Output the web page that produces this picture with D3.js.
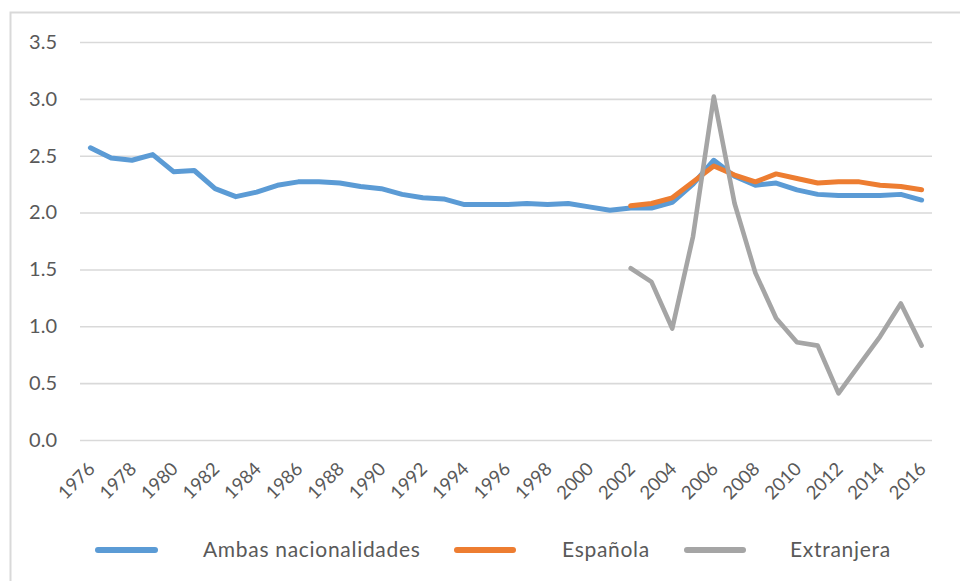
<!DOCTYPE html>
<html>
<head>
<meta charset="utf-8">
<script src="https://cdn.jsdelivr.net/npm/d3@7"></script>
<style>
  html, body { margin: 0; padding: 0; background: #ffffff; }
  svg { display: block; }
  text { font-family: Lato, "Open Sans", sans-serif; fill: #595959; }
</style>
</head>
<body>
<svg id="chart" width="960" height="581"></svg>
<script>
// Years on the category axis
const years = d3.range(1976, 2017).map(String);

// Tick values on the value axis
const yTicks = [0, 0.5, 1.0, 1.5, 2.0, 2.5, 3.0, 3.5];

// Series values, one per year (null where the series has no data)
const ambas = [
  2.57, 2.48, 2.46, 2.51, 2.36, 2.37, 2.21, 2.14, 2.18, 2.24,
  2.27, 2.27, 2.26, 2.23, 2.21, 2.16, 2.13, 2.12, 2.07, 2.07,
  2.07, 2.08, 2.07, 2.08, 2.05, 2.02, 2.04, 2.04, 2.09, 2.25,
  2.46, 2.32, 2.24, 2.26, 2.20, 2.16, 2.15, 2.15, 2.15, 2.16,
  2.11
];
const espanola = [
  null, null, null, null, null, null, null, null, null, null,
  null, null, null, null, null, null, null, null, null, null,
  null, null, null, null, null, null, 2.06, 2.08, 2.13, 2.27,
  2.41, 2.33, 2.27, 2.34, 2.30, 2.26, 2.27, 2.27, 2.24, 2.23,
  2.20
];
const extranjera = [
  null, null, null, null, null, null, null, null, null, null,
  null, null, null, null, null, null, null, null, null, null,
  null, null, null, null, null, null, 1.51, 1.39, 0.98, 1.79,
  3.02, 2.08, 1.47, 1.07, 0.86, 0.83, 0.41, 0.66, 0.91, 1.20,
  0.83
];

const seriesNames = ["Ambas nacionalidades", "Española", "Extranjera"];
const seriesColors = ["#5b9bd5", "#ed7d31", "#a5a5a5"];
const seriesValues = [ambas, espanola, extranjera];

const svg = d3.select("#chart");

// Outer chart frame
svg.append("rect")
  .attr("x", 10.5).attr("y", 12.5)
  .attr("width", 1000).attr("height", 1000)
  .attr("fill", "none")
  .attr("stroke", "#d9d9d9")
  .attr("stroke-width", 2);

const plot = { left: 80, right: 932, top: 42, bottom: 440 };

const x = d3.scaleBand()
  .domain(years)
  .range([plot.left, plot.right])
  .padding(0);

const y = d3.scaleLinear()
  .domain([0, 3.5])
  .range([plot.bottom, plot.top]);

// Horizontal gridlines with value labels
const yAxis = d3.axisLeft(y)
  .tickValues(yTicks)
  .tickFormat(d3.format(".1f"))
  .tickSize(-(plot.right - plot.left))
  .tickPadding(23);

const gy = svg.append("g")
  .attr("transform", `translate(${plot.left},0)`)
  .call(yAxis);
gy.select(".domain").remove();
gy.selectAll(".tick line")
  .attr("stroke", "#d9d9d9")
  .attr("stroke-width", 1.6);
gy.selectAll(".tick text")
  .style("font-size", "20px")
  .attr("fill", "#595959");

// Category axis with rotated year labels (every second year)
const xAxis = d3.axisBottom(x)
  .tickValues(years.filter((d, i) => i % 2 === 0))
  .tickSize(0);

const gx = svg.append("g")
  .attr("transform", `translate(0,${plot.bottom})`)
  .call(xAxis);
gx.select(".domain").remove();
gx.selectAll(".tick text")
  .style("font-size", "18.5px")
  .attr("fill", "#595959")
  .attr("text-anchor", "end")
  .attr("y", 0)
  .attr("dy", "0.35em")
  .attr("transform", "translate(1,25.5) rotate(-45)");

// Series lines
const line = d3.line()
  .defined(d => d.v !== null)
  .x(d => x(d.year) + x.bandwidth() / 2)
  .y(d => y(d.v));

seriesValues.forEach((vals, k) => {
  const pts = years.map((yr, i) => ({ year: yr, v: vals[i] }));
  svg.append("path")
    .datum(pts)
    .attr("fill", "none")
    .attr("stroke", seriesColors[k])
    .attr("stroke-width", k === 2 ? 4.6 : 5)
    .attr("stroke-linejoin", "round")
    .attr("stroke-linecap", "round")
    .attr("d", line);
});

// Legend
const legendY = 550;
const legendItems = [
  { x0: 98, x1: 155, tx: 203 },
  { x0: 457, x1: 513, tx: 562 },
  { x0: 687, x1: 743, tx: 790 }
];
const lg = svg.append("g");
legendItems.forEach((it, k) => {
  lg.append("line")
    .attr("x1", it.x0).attr("x2", it.x1)
    .attr("y1", legendY).attr("y2", legendY)
    .attr("stroke", seriesColors[k])
    .attr("stroke-width", 6)
    .attr("stroke-linecap", "round");
  lg.append("text")
    .attr("x", it.tx)
    .attr("y", legendY)
    .attr("dy", "0.35em")
    .style("font-size", "21px")
    .style("letter-spacing", "0.7px")
    .text(seriesNames[k]);
});
</script>
</body>
</html>
